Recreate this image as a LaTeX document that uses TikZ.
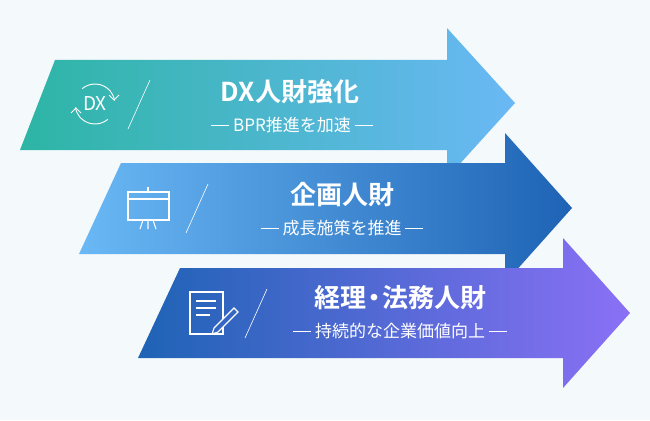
\documentclass[tikz,border=0pt]{standalone}
\usepackage{fontspec}
\newfontfamily\cjk{Noto Sans CJK JP}
\newfontfamily\cjkb{Noto Sans CJK JP Bold}
\usetikzlibrary{positioning}
\definecolor{bgc}{HTML}{F4F9FC}
\definecolor{tealc}{HTML}{2DB5A5}
\definecolor{skyc}{HTML}{6AB8F5}
\definecolor{bluec}{HTML}{1E63B5}
\definecolor{purpc}{HTML}{8A70F5}
\newcommand{\dsh}{\rule[0.32em]{18pt}{0.6pt}}
\tikzset{
  ttl/.style={text=white,font=\cjkb\fontsize{26}{26}\selectfont},
  sub/.style={text=white,font=\cjk\fontsize{17}{17}\selectfont},
  ico/.style={draw=white,line width=1.1pt},
  sls/.style={draw=white,line width=0.6pt}
}
\begin{document}
\begin{tikzpicture}[x=1pt,y=-1pt]
\fill[bgc] (0,0) rectangle (650,420);
% arrows
\shade[left color=tealc,right color=skyc] (55,60) -- (447,60) -- (447,28) -- (515,103) -- (447,178) -- (447,150) -- (20,150) -- cycle;
\shade[left color=skyc,right color=bluec] (121,163) -- (505,163) -- (505,133) -- (572,208) -- (505,283) -- (505,254) -- (79,254) -- cycle;
\shade[left color=bluec,right color=purpc] (180,268) -- (563,268) -- (563,238) -- (630,313) -- (563,388) -- (563,358) -- (138,358) -- cycle;
% slashes
\draw[sls] (150,80) -- (128,129);
\draw[sls] (208,184) -- (186,233);
\draw[sls] (267,289) -- (245,338);
% texts
\node[ttl] (t1) at (290,92) {DX人財強化};
\node[sub] (s1) at (292,125) {\dsh\ BPR推進を加速 \dsh};
\node[ttl] (t2) at (342,195) {企画人財};
\node[sub] (s2) at (342,228) {\dsh\ 成長施策を推進 \dsh};
\node[ttl] (t3) at (400,298) {経理\kern-5pt・\kern-5pt法務人財};
\node[sub] (s3) at (400,331) {\dsh\ 持続的な企業価値向上 \dsh};
% icon DX
\node[text=white,font=\cjk\fontsize{19}{19}\selectfont,inner sep=0] (dx) at (95,104) {DX};
\draw[ico,line width=0.9pt] (95,104) ++(50:20) arc (50:170:20);
\draw[ico,line width=0.9pt] (95,104) ++(230:20) arc (230:350:20);
\draw[ico,line width=0.9pt] (109,95) -- (114,100) -- (119,95);
\draw[ico,line width=0.9pt] (71,113) -- (76,108) -- (81,113);
% icon board
\draw[ico] (128,192) rectangle (169,220);
\draw[ico] (128,199) -- (169,199);
\draw[ico] (148,187) -- (148,192);
\draw[ico] (148,220) -- (148,229) (143,220) -- (140,229) (153,220) -- (156,229);
% icon document
\draw[ico] (190,292) rectangle (223,334);
\draw[ico] (196,301) -- (216,301) (196,308) -- (216,308) (196,315) -- (210,315);
\draw[ico,fill=bluec!80!purpc] (234,308) -- (238,312) -- (218,332) -- (212,334) -- (214,328) -- cycle;
\end{tikzpicture}
\end{document}
